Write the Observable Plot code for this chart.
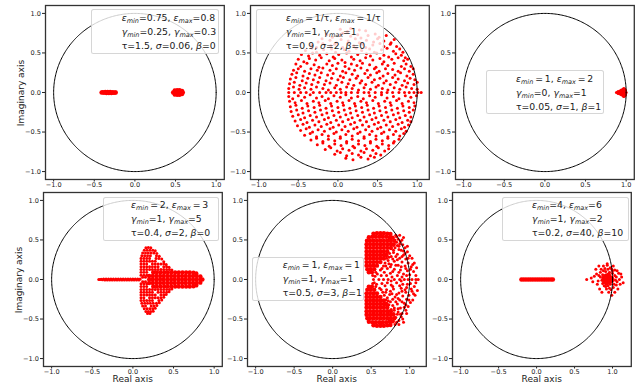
<!DOCTYPE html>
<html><head><meta charset="utf-8">
<script src="https://cdn.jsdelivr.net/npm/d3@7"></script>
<script src="https://cdn.jsdelivr.net/npm/@observablehq/plot@0.6"></script>
<style>
body{margin:0;background:#fff}
#fig{position:relative;width:637px;height:389px;overflow:hidden;background:#fff;font-family:"DejaVu Sans",sans-serif}
.leg{position:absolute;box-sizing:border-box;background:rgba(255,255,255,0.8);border:1px solid rgba(204,204,204,0.8);border-radius:2.5px;font-size:9.3px;color:#1a1a1a;white-space:nowrap;padding-top:0.5px}
.leg div{height:14px;line-height:14px}
.leg i{font-style:italic}
.leg sub{font-size:70%;vertical-align:-0.3em;line-height:0;font-style:italic}
.lab{position:absolute;font-size:9px;color:#222;white-space:nowrap;transform:translate(-50%,-50%)}
.lab.v{transform:translate(-50%,-50%) rotate(-90deg)}
</style></head><body><div id="fig"></div><script>
// ---- data (real, imaginary parts of eigenvalues) ----
const ticks = [-1, -0.5, 0, 0.5, 1];
const xLabel = "Real axis", yLabel = "Imaginary axis";

const p1Points = [];
const p1Blob = [[-.41,0],[-.395,.004],[-.38,-.004],[-.365,.006],[-.35,-.006],[-.335,.006],[-.32,-.006],[-.305,.006],[-.29,-.006],[-.275,.004],[-.26,-.004],[-.245,0],[-.235,0],
 [.47,0],[.5,0],[.53,0],[.56,0],[.59,0],[.49,.025],[.52,.03],[.55,.03],[.58,.02],[.49,-.025],[.52,-.03],[.55,-.03],[.58,-.02]];

const p2Points = [
[.03,.8],[.12,.77],[.16,.81],[.27,.79],[.35,.78],
[-.14,.73],[-.07,.7],[.02,.72],[.06,.75],[.16,.71],[.25,.73],[.29,.69],[.38,.72],[.47,.74],[.52,.7],[.61,.72],
[-.25,.64],[-.2,.68],[-.1,.66],[-.02,.63],[.04,.67],[.13,.65],[.22,.68],[.27,.63],[.36,.66],[.45,.64],[.5,.68],[.58,.65],[.67,.63],[.71,.67],
[-.33,.6],[-.27,.57],[-.19,.62],[-.09,.59],[-.04,.61],[.06,.57],[.12,.62],[.2,.59],[.31,.61],[.35,.57],[.44,.6],[.53,.62],[.58,.58],[.66,.61],[.74,.58],
[-.41,.53],[-.33,.56],[-.27,.51],[-.18,.54],[-.08,.55],[-.03,.51],[.08,.54],[.14,.52],[.23,.56],[.3,.53],[.4,.55],[.46,.51],[.55,.54],[.62,.56],[.7,.52],[.78,.55],[.82,.51],
[-.46,.48],[-.37,.46],[-.32,.5],[-.23,.47],[-.14,.49],[-.06,.45],[.01,.48],[.11,.5],[.17,.45],[.25,.48],[.36,.49],[.41,.46],[.49,.5],[.58,.47],[.64,.45],[.73,.49],[.8,.47],[.85,.44],
[-.5,.42],[-.43,.39],[-.36,.43],[-.28,.41],[-.21,.44],[-.11,.4],[-.04,.43],[.05,.41],[.09,.38],[.2,.42],[.28,.4],[.35,.44],[.44,.41],[.53,.43],[.58,.39],[.68,.42],[.76,.44],[.83,.4],[.88,.42],
[-.53,.36],[-.47,.33],[-.39,.37],[-.3,.35],[-.24,.32],[-.14,.36],[-.07,.34],[0,.37],[.09,.33],[.17,.36],[.24,.34],[.31,.37],[.4,.35],[.48,.32],[.56,.36],[.63,.34],[.71,.37],[.8,.33],[.86,.36],[.92,.33],
[-.56,.28],[-.5,.3],[-.42,.27],[-.34,.3],[-.26,.28],[-.19,.31],[-.1,.28],[-.02,.3],[.06,.27],[.14,.3],[.21,.28],[.29,.31],[.37,.28],[.46,.3],[.52,.27],[.6,.3],[.69,.29],[.76,.27],[.84,.3],[.9,.27],[.95,.3],
[-.58,.23],[-.52,.25],[-.44,.21],[-.36,.24],[-.29,.22],[-.21,.25],[-.13,.22],[-.06,.24],[.03,.21],[.1,.25],[.18,.23],[.25,.21],[.34,.24],[.41,.22],[.49,.25],[.57,.21],[.63,.24],[.72,.22],[.79,.25],[.87,.21],[.95,.23],
[-.6,.17],[-.53,.19],[-.45,.15],[-.38,.18],[-.31,.16],[-.23,.19],[-.15,.15],[-.08,.18],[0,.16],[.07,.19],[.15,.16],[.23,.18],[.3,.15],[.38,.19],[.46,.16],[.53,.18],[.61,.15],[.69,.19],[.76,.17],[.84,.15],[.91,.18],[.97,.16],
[-.61,.11],[-.55,.13],[-.48,.09],[-.4,.12],[-.33,.1],[-.25,.13],[-.17,.1],[-.1,.12],[-.02,.09],[.05,.13],[.13,.11],[.2,.09],[.28,.12],[.35,.1],[.43,.13],[.51,.09],[.58,.12],[.66,.1],[.73,.13],[.81,.09],[.88,.12],[.96,.1],[1,.13],
[-.62,.05],[-.56,.07],[-.49,.04],[-.42,.06],[-.34,.04],[-.27,.07],[-.19,.05],[-.12,.03],[-.04,.06],[.03,.04],[.11,.07],[.18,.05],[.26,.03],[.33,.06],[.41,.04],[.48,.07],[.56,.05],[.63,.03],[.71,.06],[.78,.04],[.86,.07],[.93,.05],[1,.04],
[-.62,0],[-.55,0],[-.47,0],[-.4,0],[-.31,0],[-.23,0],[-.15,0],[-.09,0],[-.02,0],[.04,0],[.1,0],[.17,0],[.25,0],[.33,0],[.39,0],[.47,0],[.55,0],[.62,0],[.69,0],[.77,0],[.84,0],[.9,0],[.96,0],[1.01,0],[1.05,0],
[-.62,-.05],[-.57,-.08],[-.5,-.04],[-.42,-.06],[-.35,-.03],[-.27,-.07],[-.2,-.05],[-.12,-.08],[-.05,-.04],[.03,-.06],[.1,-.03],[.17,-.07],[.25,-.05],[.32,-.08],[.4,-.04],[.47,-.06],[.55,-.03],[.62,-.07],[.7,-.05],[.77,-.08],[.85,-.04],[.92,-.06],[.99,-.04],
[-.61,-.11],[-.54,-.13],[-.46,-.1],[-.39,-.14],[-.31,-.11],[-.24,-.13],[-.16,-.1],[-.09,-.14],[-.01,-.11],[.06,-.13],[.14,-.1],[.21,-.14],[.29,-.11],[.36,-.13],[.44,-.1],[.51,-.14],[.59,-.11],[.66,-.13],[.74,-.1],[.81,-.14],[.89,-.11],[.96,-.13],
[-.6,-.18],[-.53,-.16],[-.45,-.2],[-.38,-.17],[-.3,-.19],[-.23,-.16],[-.15,-.2],[-.08,-.17],[0,-.19],[.07,-.16],[.15,-.2],[.22,-.17],[.3,-.19],[.37,-.16],[.45,-.2],[.52,-.17],[.6,-.19],[.67,-.16],[.75,-.2],[.82,-.17],[.9,-.19],[.97,-.17],
[-.59,-.24],[-.52,-.22],[-.44,-.26],[-.37,-.23],[-.29,-.25],[-.22,-.22],[-.14,-.26],[-.07,-.23],[.01,-.25],[.08,-.22],[.16,-.26],[.23,-.23],[.31,-.25],[.38,-.22],[.46,-.26],[.53,-.23],[.61,-.25],[.68,-.22],[.76,-.26],[.83,-.23],[.9,-.25],[.95,-.22],
[-.57,-.3],[-.5,-.28],[-.42,-.32],[-.35,-.29],[-.27,-.31],[-.2,-.28],[-.12,-.32],[-.05,-.29],[.03,-.31],[.1,-.28],[.18,-.32],[.25,-.29],[.33,-.31],[.4,-.28],[.48,-.32],[.55,-.29],[.63,-.31],[.7,-.28],[.78,-.32],[.85,-.29],[.92,-.31],
[-.54,-.36],[-.47,-.34],[-.39,-.38],[-.32,-.35],[-.24,-.37],[-.17,-.34],[-.09,-.38],[-.02,-.35],[.06,-.37],[.13,-.34],[.21,-.38],[.28,-.35],[.36,-.37],[.43,-.34],[.51,-.38],[.58,-.35],[.66,-.37],[.73,-.34],[.81,-.38],[.88,-.35],[.92,-.37],
[-.51,-.42],[-.44,-.4],[-.36,-.44],[-.29,-.41],[-.21,-.43],[-.14,-.4],[-.06,-.44],[.01,-.41],[.09,-.43],[.16,-.4],[.24,-.44],[.31,-.41],[.39,-.43],[.46,-.4],[.54,-.44],[.61,-.41],[.69,-.43],[.76,-.4],[.84,-.44],[.89,-.41],
[-.47,-.48],[-.4,-.46],[-.32,-.5],[-.25,-.47],[-.17,-.49],[-.1,-.46],[-.02,-.5],[.05,-.47],[.13,-.49],[.2,-.46],[.28,-.5],[.35,-.47],[.43,-.49],[.5,-.46],[.58,-.5],[.65,-.47],[.73,-.49],[.8,-.46],[.86,-.49],
[-.42,-.54],[-.35,-.52],[-.27,-.56],[-.2,-.53],[-.12,-.55],[-.05,-.52],[.03,-.56],[.1,-.53],[.18,-.55],[.25,-.52],[.33,-.56],[.4,-.53],[.48,-.55],[.55,-.52],[.63,-.56],[.7,-.53],[.78,-.55],[.83,-.52],
[-.34,-.6],[-.27,-.58],[-.19,-.62],[-.12,-.59],[-.04,-.61],[.03,-.58],[.11,-.62],[.18,-.59],[.26,-.61],[.33,-.58],[.41,-.62],[.48,-.59],[.56,-.61],[.63,-.58],[.71,-.62],[.77,-.59],
[-.26,-.66],[-.19,-.64],[-.11,-.68],[-.04,-.65],[.04,-.67],[.11,-.64],[.19,-.68],[.26,-.65],[.34,-.67],[.41,-.64],[.49,-.68],[.56,-.65],[.64,-.67],[.7,-.64],
[-.16,-.72],[-.09,-.7],[-.01,-.74],[.06,-.71],[.14,-.73],[.21,-.7],[.29,-.74],[.36,-.71],[.44,-.73],[.51,-.7],[.59,-.74],[.64,-.71],
[-.04,-.78],[.03,-.76],[.11,-.8],[.18,-.77],[.26,-.79],[.33,-.76],[.41,-.8],[.48,-.77],[.54,-.79],
[.1,-.83],[.19,-.85],[.29,-.82],[.38,-.84],[.46,-.82]];
const p2Blob = [];

const p3Points = [[.88,0],[.9,0],[.9,.012],[.9,-.012],[.92,0],[.92,.02],[.92,-.02],[.94,0],[.94,.03],[.94,-.03],[.95,.015],[.95,-.015],
 [.96,0],[.96,.04],[.96,-.04],[.97,.025],[.97,-.025],[.98,0],[.98,.045],[.98,-.045],[.99,.02],[.99,-.02],[1,0],[.99,.035],[.99,-.035],[.97,.05],[.97,-.05]];
const p3Blob = [];

const p4Points = [
[-.42,0],[-.405,0],[-.39,.004],[-.375,-.004],[-.36,.006],[-.345,-.006],[-.33,.007],[-.315,-.007],[-.3,.007],[-.285,-.007],[-.27,.007],[-.255,-.007],[-.24,.007],[-.225,-.007],
[-.21,.007],[-.195,-.007],[-.18,.007],[-.165,-.007],[-.15,.007],[-.135,-.007],[-.12,.007],[-.105,-.007],[-.09,.007],[-.075,-.007],[-.06,.007],[-.045,-.007],[-.03,.007],[-.015,-.007],
[0,.007],[.015,-.007],[.03,.007],[.045,-.007],[.06,.007],[.075,-.007],[.09,.007],
[.1,.09],[.135,.09],[.17,.09],[.1,.055],[.135,.055],[.17,.055],[.12,.028],[.155,.028],[.1,-.09],[.135,-.09],[.17,-.09],[.1,-.055],[.135,-.055],[.17,-.055],[.12,-.028],[.155,-.028],
[.1,.125],[.135,.125],[.17,.125],[.205,.125],[.24,.125],[.275,.125],[.31,.125],[.345,.125],[.38,.125],[.415,.125],[.45,.125],[.48,.12],
[.1,.16],[.135,.16],[.17,.16],[.205,.16],[.24,.16],[.275,.16],[.31,.16],[.38,.16],[.415,.16],[.445,.155],
[.1,.195],[.135,.195],[.17,.195],[.24,.195],[.275,.195],[.31,.195],[.345,.195],[.38,.195],[.41,.19],
[.1,.23],[.135,.23],[.17,.23],[.205,.23],[.24,.23],[.275,.23],[.38,.225],
[.1,.265],[.135,.265],[.17,.265],[.205,.265],[.285,.265],[.32,.265],[.355,.26],
[.11,.3],[.145,.3],[.18,.3],[.215,.3],[.29,.3],[.325,.295],
[.12,.335],[.155,.335],[.19,.335],[.225,.335],[.26,.335],[.295,.33],
[.14,.37],[.175,.37],[.21,.37],[.245,.37],[.275,.365],
[.16,.4],[.19,.405],[.22,.4],
[.1,-.125],[.135,-.125],[.17,-.125],[.205,-.125],[.24,-.125],[.275,-.125],[.31,-.125],[.345,-.125],[.38,-.125],[.415,-.125],[.45,-.125],[.48,-.12],
[.1,-.16],[.135,-.16],[.17,-.16],[.205,-.16],[.24,-.16],[.31,-.16],[.345,-.16],[.38,-.16],[.415,-.16],[.445,-.155],
[.1,-.195],[.135,-.195],[.17,-.195],[.205,-.195],[.24,-.195],[.275,-.195],[.345,-.195],[.38,-.195],[.41,-.19],
[.1,-.23],[.135,-.23],[.205,-.23],[.24,-.23],[.275,-.23],[.31,-.23],[.345,-.23],[.38,-.225],
[.1,-.265],[.135,-.265],[.17,-.265],[.205,-.265],[.24,-.265],[.32,-.265],[.355,-.26],
[.11,-.3],[.145,-.3],[.18,-.3],[.215,-.3],[.25,-.3],[.29,-.3],[.325,-.295],
[.12,-.335],[.155,-.335],[.225,-.335],[.26,-.335],[.295,-.33],
[.14,-.37],[.175,-.37],[.21,-.37],[.245,-.37],[.275,-.365],
[.16,-.405],[.19,-.405],[.22,-.405],[.25,-.4],
[.18,-.43],[.21,-.43]];
const p4Blob = [
[.2,0],[.245,0],[.29,0],[.335,0],[.38,0],[.425,0],[.47,0],[.515,0],[.56,0],[.605,0],[.65,0],[.695,0],[.74,0],[.785,0],[.83,0],[.855,0],
[.2,.045],[.245,.045],[.29,.045],[.335,.045],[.38,.045],[.425,.045],[.47,.045],[.515,.045],[.56,.045],[.605,.045],[.65,.045],[.695,.045],[.74,.045],[.785,.045],[.83,.04],
[.2,-.045],[.245,-.045],[.29,-.045],[.335,-.045],[.38,-.045],[.425,-.045],[.47,-.045],[.515,-.045],[.56,-.045],[.605,-.045],[.65,-.045],[.695,-.045],[.74,-.045],[.785,-.045],[.83,-.04],
[.25,.09],[.295,.09],[.34,.09],[.385,.09],[.43,.09],[.475,.09],[.52,.09],[.565,.09],[.61,.09],[.655,.09],[.7,.09],[.745,.085],[.78,.075],
[.25,-.09],[.295,-.09],[.34,-.09],[.385,-.09],[.43,-.09],[.475,-.09],[.52,-.09],[.565,-.09],[.61,-.09],[.655,-.09],[.7,-.09],[.745,-.085],[.78,-.075]];

const p5Points = [
[.82,.56],[.85,.51],[.83,.47],[.88,.48],[.91,.44],[.86,.42],[.81,.4],[.94,.4],[.89,.37],[.97,.35],[.79,.34],[.84,.32],[.92,.31],[1,.3],[.76,.29],[.87,.27],[.95,.26],[1.03,.27],
[.72,.24],[.8,.23],[.9,.22],[.98,.21],[1.06,.21],[.76,.19],[.85,.18],[.94,.17],[1.02,.16],[1.09,.15],[.66,.17],[.71,.14],[.8,.13],[.88,.12],[.97,.11],[1.05,.1],
[.62,.12],[.67,.09],[.75,.08],[.92,.07],[1,.06],[1.08,.05],[.58,.07],[.55,.04],[.84,.05],[.7,.05],[.8,.5],[.77,.45],[.79,.37],[.74,.33],[.7,.27],[.68,.21],[.73,.2],[.64,.14],
[.83,.54],[.87,.45],[.9,.5],[.86,.38],[.92,.36],[.82,.29],[.9,.29],[.78,.26],[.84,.25],[.94,.33],[.98,.27],[.75,.16],[.82,.18],[.89,.16],[.78,.1],[.86,.09],[.95,.14],
[.63,.05],[.77,.03],[.9,.03],[.96,.05],[1.01,.13],[1.04,.19],[.97,.42],[.92,.53],[.87,.56],[.84,.43],[.8,.45],[.76,.39],[.73,.28],[.69,.17],[.52,.05],[.56,.09],
[.53,0],[.6,0],[.66,0],[.72,0],[.8,0],[.87,0],[.93,0],[.98,0],[1.03,0],[1.08,0],[1.11,0],
[.81,-.57],[.86,-.52],[.82,-.48],[.89,-.47],[.9,-.43],[.85,-.41],[.8,-.39],[.95,-.39],[.88,-.36],[.98,-.34],[.78,-.33],[.84,-.31],[.93,-.3],[1.01,-.29],[.75,-.28],[.87,-.26],
[.96,-.25],[1.04,-.26],[.71,-.23],[.81,-.22],[.91,-.21],[.99,-.2],[1.07,-.2],[.77,-.18],[.86,-.17],[.95,-.16],[1.03,-.15],[1.1,-.14],[.65,-.16],[.7,-.13],[.79,-.12],[.89,-.11],
[.96,-.1],[1.06,-.09],[.61,-.11],[.68,-.08],[.76,-.07],[.91,-.06],[1.01,-.05],[1.08,-.04],[.57,-.06],[.54,-.04],[.83,-.04],[.71,-.04],[.8,-.5],[.76,-.44],[.8,-.36],[.73,-.32],
[.69,-.26],[.67,-.2],[.74,-.19],[.63,-.13],
[.83,-.54],[.88,-.44],[.91,-.5],[.85,-.37],[.93,-.35],[.82,-.28],[.9,-.28],[.78,-.25],[.85,-.24],[.95,-.32],[.99,-.26],[.75,-.15],[.83,-.19],[.9,-.15],[.78,-.09],[.87,-.08],
[.94,-.13],[.64,-.05],[.76,-.02],[.89,-.02],[.97,-.06],[1.02,-.12],[1.05,-.18],[.96,-.43],[.92,-.54],[.86,-.57],[.84,-.44],[.79,-.45],[.76,-.38],[.72,-.27],[.69,-.16],[.52,-.05],[.56,-.09]];
const p5Blob = [
[.53,.58],[.575,.585],[.62,.585],[.665,.585],[.71,.58],[.75,.575],
[.47,.535],[.515,.54],[.56,.54],[.605,.54],[.65,.54],[.695,.54],[.74,.535],[.78,.53],
[.445,.49],[.485,.49],[.53,.49],[.575,.49],[.62,.49],[.665,.49],[.71,.49],[.755,.49],[.8,.49],
[.44,.445],[.485,.445],[.53,.445],[.575,.445],[.62,.445],[.665,.445],[.71,.445],[.755,.445],[.79,.44],
[.44,.4],[.485,.4],[.53,.4],[.575,.4],[.62,.4],[.665,.4],[.71,.4],[.755,.4],
[.44,.355],[.485,.355],[.53,.355],[.575,.355],[.62,.355],[.665,.355],[.71,.355],
[.44,.31],[.485,.31],[.53,.31],[.575,.31],[.62,.31],[.665,.31],[.7,.31],
[.44,.265],[.485,.265],[.53,.265],[.575,.265],[.62,.265],[.665,.265],
[.44,.22],[.485,.22],[.53,.22],[.575,.22],[.62,.22],
[.44,.175],[.485,.175],[.53,.175],[.575,.175],
[.45,.13],[.495,.13],[.54,.13],
[.47,.09],[.51,.09],
[.47,-.09],[.51,-.09],
[.45,-.13],[.495,-.13],[.54,-.13],
[.44,-.175],[.485,-.175],[.53,-.175],[.575,-.175],
[.44,-.22],[.485,-.22],[.53,-.22],[.575,-.22],[.62,-.22],
[.44,-.265],[.485,-.265],[.53,-.265],[.575,-.265],[.62,-.265],[.665,-.265],
[.44,-.31],[.485,-.31],[.53,-.31],[.575,-.31],[.62,-.31],[.665,-.31],[.7,-.31],
[.44,-.355],[.485,-.355],[.53,-.355],[.575,-.355],[.62,-.355],[.665,-.355],[.71,-.355],
[.44,-.4],[.485,-.4],[.53,-.4],[.575,-.4],[.62,-.4],[.665,-.4],[.71,-.4],[.755,-.4],
[.44,-.445],[.485,-.445],[.53,-.445],[.575,-.445],[.62,-.445],[.665,-.445],[.71,-.445],[.755,-.445],[.79,-.44],
[.45,-.49],[.485,-.49],[.53,-.49],[.575,-.49],[.62,-.49],[.665,-.49],[.71,-.49],[.755,-.49],[.8,-.49],
[.47,-.535],[.515,-.54],[.56,-.54],[.605,-.54],[.65,-.54],[.695,-.54],[.74,-.535],[.78,-.53],
[.53,-.58],[.575,-.585],[.62,-.585],[.665,-.585],[.71,-.58],[.75,-.575]];

const p6Points = [
[.66,0],[.76,.04],[.78,.13],[.82,.17],[.84,.09],[.86,-.01],[.88,.11],[.89,-.08],[.9,.05],[.92,-.12],[.93,.18],[.95,-.16],[.96,.09],[.97,-.06],[.99,.13],[1.01,-.1],
[1.03,.05],[1.04,-.01],[1.06,.11],[1.07,-.12],[1.09,0],[1.11,.07],[1.14,-.04],[.8,-.06],[.83,-.12],[.86,-.16],[.88,.17],[1.01,.17],[1.03,-.16],[.99,-.2],[.93,.2],
[.79,.07],[.81,-.02],[.84,.03],[.87,.06],[.87,-.05],[.91,.1],[.91,-.09],[.94,.13],[.94,-.08],[.97,.15],[.98,-.13],[1,.08],[1.02,-.06],[1.05,.03],[1.05,-.07],[1.08,.08],
[1.1,-.06],[.72,.02],[.74,-.03],[1.12,.03],[.9,.14],[.96,-.11],[1,.11],[1.03,.12],[1.06,-.03],[.85,.13],[.82,.05]];
const p6Blob = [
[-.2,0],[-.17,0],[-.14,0],[-.11,0],[-.08,0],[-.05,0],[-.02,0],[.01,0],[.04,0],[.07,0],[.1,0],[.13,0],[.16,0],[.19,0],[.215,0],
[.9,0],[.93,.02],[.93,-.02],[.96,0],[.96,.04],[.96,-.04],[.99,.02],[.99,-.02],[.92,.05],[.92,-.05],[1,0],[.88,.02],[.89,-.03],[.95,.06]];

const E = "\u2009=\u2009";
const legendLines = [
 ['<i>ε</i><sub>min</sub>=0.75, <i>ε</i><sub>max</sub>=0.8','<i>γ</i><sub>min</sub>=0.25, <i>γ</i><sub>max</sub>=0.3','τ=1.5, <i>σ</i>=0.06, <i>β</i>=0'],
 ['<i>ε</i><sub>min</sub>'+E+'1/τ, <i>ε</i><sub>max</sub>'+E+'1/τ','<i>γ</i><sub>min</sub>=1, <i>γ</i><sub>max</sub>=1','τ=0.9, <i>σ</i>=2, <i>β</i>=0'],
 ['<i>ε</i><sub>min</sub>'+E+'1, <i>ε</i><sub>max</sub>'+E+'2','<i>γ</i><sub>min</sub>=0, <i>γ</i><sub>max</sub>=1','τ=0.05, <i>σ</i>=1, <i>β</i>=1'],
 ['<i>ε</i><sub>min</sub>'+E+'2, <i>ε</i><sub>max</sub>'+E+'3','<i>γ</i><sub>min</sub>=1, <i>γ</i><sub>max</sub>=5','τ=0.4, <i>σ</i>=2, <i>β</i>=0'],
 ['<i>ε</i><sub>min</sub>'+E+'1, <i>ε</i><sub>max</sub>'+E+'1','<i>γ</i><sub>min</sub>=1, <i>γ</i><sub>max</sub>=1','τ=0.5, <i>σ</i>=3, <i>β</i>=1'],
 ['<i>ε</i><sub>min</sub>=4, <i>ε</i><sub>max</sub>=6','<i>γ</i><sub>min</sub>=1, <i>γ</i><sub>max</sub>=2','τ=0.2, <i>σ</i>=40, <i>β</i>=10']];

// unit circle reference (geometry, not data)
const unitCircle = d3.range(0, 361).map(a => ({x: Math.cos(a * Math.PI / 180), y: Math.sin(a * Math.PI / 180)}));

// ---- layout ----
const FW = 178.8, FH = 174, ML = 32, MR = 8, MT = 6, MB = 16;
const panels = [
 {pts: p1Points, blob: p1Blob, left: 45,    top: 5,     leg: [90.7, 9.3, 128.3, 44.7, 30], ylab: true,  xlab: false},
 {pts: p2Points, blob: p2Blob, left: 250,   top: 5,     leg: [255.7, 9.3, 128.3, 44.7, 29.3], ylab: false, xlab: false},
 {pts: p3Points, blob: p3Blob, left: 455,   top: 5,     leg: [485.7, 70, 118.6, 44, 29.3], ylab: false, xlab: false},
 {pts: p4Points, blob: p4Blob, left: 43.3,  top: 191.7, leg: [103.3, 196.7, 115.7, 44.3, 26.7], ylab: true,  xlab: true},
 {pts: p5Points, blob: p5Blob, left: 247.3, top: 191.7, leg: [251.7, 256.7, 112.6, 44.3, 30], ylab: false, xlab: true},
 {pts: p6Points, blob: p6Blob, left: 452.3, top: 191.7, leg: [501.7, 196.7, 127.6, 44.3, 29.3], ylab: false, xlab: true}
];

const fig = document.getElementById("fig");
const fmt = d3.format(".1f");
function padded(vals) { const [a, b] = d3.extent(vals); const r = b - a; return [a - 0.05 * r, b + 0.05 * r]; }

panels.forEach((p, i) => {
  const allPts = p.pts.concat(p.blob);
  const xd = padded(unitCircle.map(d => d.x).concat(allPts.map(d => d[0])));
  const yd = padded(unitCircle.map(d => d.y).concat(allPts.map(d => d[1])));
  const chart = Plot.plot({
    width: FW + ML + MR, height: FH + MT + MB,
    marginLeft: ML, marginRight: MR, marginTop: MT, marginBottom: MB,
    x: {domain: xd}, y: {domain: yd},
    style: {fontFamily: '"DejaVu Sans", sans-serif', fontSize: "6.6px", color: "#222", background: "transparent", overflow: "visible"},
    marks: [
      Plot.dot(p.pts, {x: d => d[0], y: d => d[1], r: 1.5, fill: "#ff0000"}),
      Plot.dot(p.blob, {x: d => d[0], y: d => d[1], r: 2.2, fill: "#ff0000"}),
      Plot.line(unitCircle, {x: "x", y: "y", stroke: "#000", strokeWidth: 1}),
      Plot.axisX({ticks, tickFormat: fmt, tickSize: 2.5, tickPadding: 0, label: null}),
      Plot.axisY({ticks, tickFormat: fmt, tickSize: 3, tickPadding: 1.5, label: null}),
      Plot.frame({stroke: "#333", strokeWidth: 1.3})
    ]
  });
  chart.style.position = "absolute";
  chart.style.left = (p.left - ML) + "px";
  chart.style.top = (p.top - MT) + "px";
  fig.appendChild(chart);

  const [lx, ly, lw, lh, tpad] = p.leg;
  const leg = document.createElement("div");
  leg.className = "leg";
  Object.assign(leg.style, {left: lx + "px", top: ly + "px", width: lw + "px", height: lh + "px", paddingLeft: tpad + "px"});
  leg.innerHTML = legendLines[i].map(s => "<div>" + s + "</div>").join("");
  fig.appendChild(leg);

  if (p.ylab) {
    const t = document.createElement("div");
    t.className = "lab v"; t.textContent = yLabel;
    t.style.left = (p.left - 24.3) + "px"; t.style.top = (p.top + FH / 2 + 1) + "px";
    fig.appendChild(t);
  }
  if (p.xlab) {
    const t = document.createElement("div");
    t.className = "lab"; t.textContent = xLabel;
    t.style.left = (p.left + FW / 2) + "px"; t.style.top = (p.top + FH + 13.5) + "px";
    fig.appendChild(t);
  }
});
</script></body></html>
